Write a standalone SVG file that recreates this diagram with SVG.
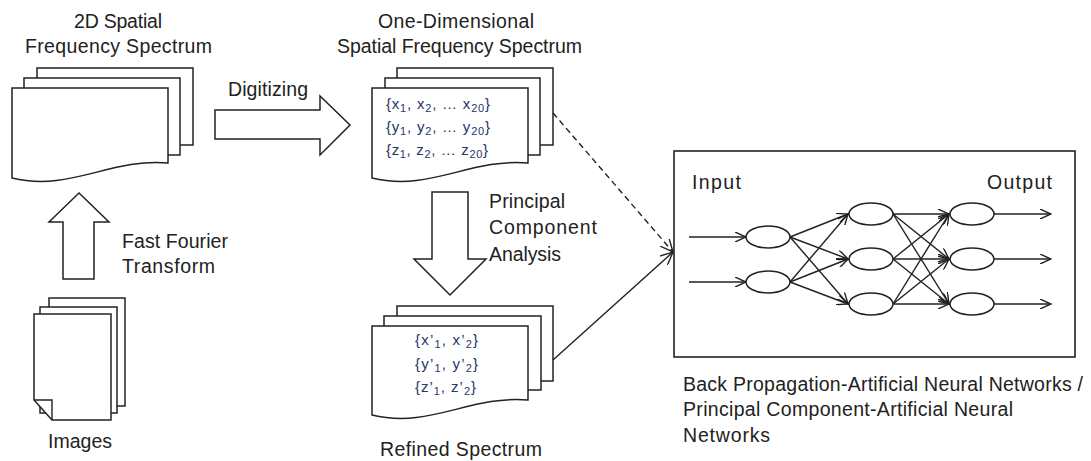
<svg xmlns="http://www.w3.org/2000/svg" width="1091" height="461" viewBox="0 0 1091 461">
<style>
.pg{fill:#fff;stroke:#222;stroke-width:1.5;stroke-linejoin:miter}
.blk{fill:#fff;stroke:#222;stroke-width:1.5}
.lbl{font-family:"Liberation Sans",Arial,sans-serif;font-size:19.5px;fill:#222}
.in{font-family:"Liberation Sans",Arial,sans-serif;font-size:15px;fill:#26366a}
.sub{font-size:11px}
.ln{fill:none;stroke:#222;stroke-width:1.4}
.neu{fill:#fff;stroke:#222;stroke-width:1.5}
</style>
<defs>
<marker id="big" viewBox="0 0 14 12" refX="13" refY="6" markerWidth="14" markerHeight="12" markerUnits="userSpaceOnUse" orient="auto">
<path d="M0,0 L13,6 L0,12" fill="none" stroke="#222" stroke-width="1.4" stroke-dasharray="none"/>
</marker>
<marker id="sm" viewBox="0 0 12 10" refX="11" refY="5" markerWidth="12" markerHeight="10" markerUnits="userSpaceOnUse" orient="auto">
<path d="M0,0 L11,5 L0,10" fill="none" stroke="#222" stroke-width="1.4"/>
</marker>
</defs>
<rect width="1091" height="461" fill="#fff"/>

<g id="doc-2d">
<rect class="pg" x="37" y="68" width="156" height="77"/>
<rect class="pg" x="24" y="78" width="156" height="77"/>
<path class="pg" d="M12,88 H168 V163 C110,158 70,192 12,178 Z"/>
<text class="lbl" x="74" y="28" textLength="88">2D Spatial</text>
<text class="lbl" x="25" y="53" textLength="187">Frequency Spectrum</text>
</g>

<g id="doc-1d">
<rect class="pg" x="397" y="68" width="156" height="77"/>
<rect class="pg" x="385" y="78" width="155" height="77"/>
<path class="pg" d="M372,88 H528 V163 C470,158 430,192 372,178 Z"/>
<text class="in" x="386" y="109" textLength="104">{x<tspan class="sub" dy="3">1</tspan><tspan dy="-3">, x</tspan><tspan class="sub" dy="3">2</tspan><tspan dy="-3">, … x</tspan><tspan class="sub" dy="3">20</tspan><tspan dy="-3">}</tspan></text>
<text class="in" x="386" y="132" textLength="104">{y<tspan class="sub" dy="3">1</tspan><tspan dy="-3">, y</tspan><tspan class="sub" dy="3">2</tspan><tspan dy="-3">, … y</tspan><tspan class="sub" dy="3">20</tspan><tspan dy="-3">}</tspan></text>
<text class="in" x="386" y="155" textLength="102">{z<tspan class="sub" dy="3">1</tspan><tspan dy="-3">, z</tspan><tspan class="sub" dy="3">2</tspan><tspan dy="-3">, … z</tspan><tspan class="sub" dy="3">20</tspan><tspan dy="-3">}</tspan></text>
<text class="lbl" x="378" y="28" textLength="156">One-Dimensional</text>
<text class="lbl" x="337" y="53" textLength="245">Spatial Frequency Spectrum</text>
</g>

<g id="doc-refined">
<rect class="pg" x="397" y="306" width="156" height="75"/>
<rect class="pg" x="384" y="316" width="157" height="74"/>
<path class="pg" d="M372,326 H528 V400 C470,395 430,429 372,415 Z"/>
<text class="in" x="415" y="345" textLength="63">{x’<tspan class="sub" dy="3">1</tspan><tspan dy="-3">, x’</tspan><tspan class="sub" dy="3">2</tspan><tspan dy="-3">}</tspan></text>
<text class="in" x="415" y="369" textLength="63">{y’<tspan class="sub" dy="3">1</tspan><tspan dy="-3">, y’</tspan><tspan class="sub" dy="3">2</tspan><tspan dy="-3">}</tspan></text>
<text class="in" x="415" y="392" textLength="61">{z’<tspan class="sub" dy="3">1</tspan><tspan dy="-3">, z’</tspan><tspan class="sub" dy="3">2</tspan><tspan dy="-3">}</tspan></text>
<text class="lbl" x="380" y="456" textLength="162">Refined Spectrum</text>
</g>

<g id="doc-images">
<rect class="pg" x="49" y="298" width="76" height="108"/>
<rect class="pg" x="40" y="307" width="77" height="106"/>
<path class="pg" d="M34,314 H111 V420 H52 L34,400 Z"/>
<path class="ln" d="M34,400 H52 V420" stroke-width="1.5"/>
<text class="lbl" x="48" y="448" textLength="64">Images</text>
</g>

<g id="nn">
<rect x="674" y="151" width="401" height="206" fill="#fff" stroke="#222" stroke-width="1.6"/>
<text class="lbl" x="692" y="189" textLength="49">Input</text>
<text class="lbl" x="987" y="189" textLength="65">Output</text>
<g class="ln" marker-end="url(#sm)">
<path d="M689,237 H746"/>
<path d="M689,282 H746"/>
<path d="M790,237 L848,214"/>
<path d="M790,237 L848,259"/>
<path d="M790,237 L848,304"/>
<path d="M790,282 L848,214"/>
<path d="M790,282 L848,259"/>
<path d="M790,282 L848,304"/>
<path d="M893,214 L949,214"/>
<path d="M893,214 L949,259"/>
<path d="M893,214 L949,304"/>
<path d="M893,259 L949,214"/>
<path d="M893,259 L949,259"/>
<path d="M893,259 L949,304"/>
<path d="M893,304 L949,214"/>
<path d="M893,304 L949,259"/>
<path d="M893,304 L949,304"/>
<path d="M994,214 H1051"/>
<path d="M994,259 H1051"/>
<path d="M994,304 H1051"/>
</g>
<ellipse class="neu" cx="768" cy="237" rx="22" ry="11"/>
<ellipse class="neu" cx="768" cy="282" rx="22" ry="11"/>
<ellipse class="neu" cx="871" cy="214" rx="22" ry="11"/>
<ellipse class="neu" cx="871" cy="259" rx="22" ry="11"/>
<ellipse class="neu" cx="871" cy="304" rx="22" ry="11"/>
<ellipse class="neu" cx="972" cy="214" rx="22" ry="11"/>
<ellipse class="neu" cx="972" cy="259" rx="22" ry="11"/>
<ellipse class="neu" cx="972" cy="304" rx="22" ry="11"/>
<text class="lbl" x="683" y="391" textLength="400">Back Propagation-Artificial Neural Networks /</text>
<text class="lbl" x="683" y="416" textLength="330">Principal Component-Artificial Neural</text>
<text class="lbl" x="683" y="442" textLength="87">Networks</text>
</g>

<g id="connectors">
<polygon class="blk" points="215,110 320,110 320,96 350,125 320,155 320,139 215,139"/>
<text class="lbl" x="228" y="96" textLength="80">Digitizing</text>
<polygon class="blk" points="63,279 63,222 49,222 79,193 109,222 94,222 94,279"/>
<text class="lbl" x="122" y="248" textLength="106">Fast Fourier</text>
<text class="lbl" x="122" y="273" textLength="93">Transform</text>
<polygon class="blk" points="432,192 468,192 468,259 486,259 450,295 414,259 432,259"/>
<text class="lbl" x="489" y="208" textLength="76">Principal</text>
<text class="lbl" x="489" y="234" textLength="108">Component</text>
<text class="lbl" x="489" y="261" textLength="72">Analysis</text>
<path class="ln" d="M553,113 L673,252" stroke-dasharray="6,4" marker-end="url(#big)"/>
<path class="ln" d="M553,360 L673,252" marker-end="url(#big)"/>
</g>
</svg>
